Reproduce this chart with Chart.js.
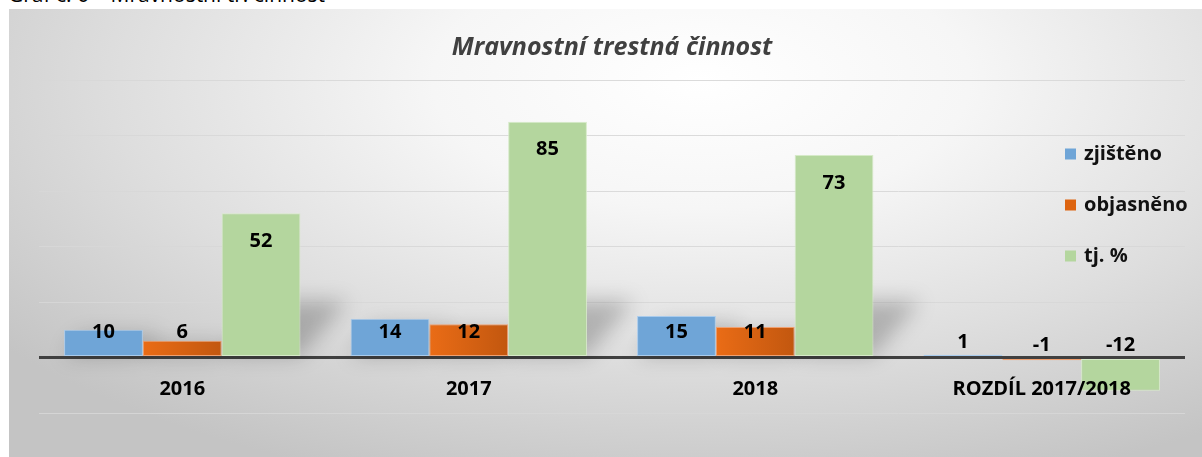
<!DOCTYPE html>
<html>
<head>
<meta charset="utf-8">
<script src="https://cdn.jsdelivr.net/npm/chart.js@4.4.1/dist/chart.umd.min.js"></script>
<style>
  html, body { margin: 0; padding: 0; background: #fff; overflow: hidden; }
  body { width: 1202px; height: 457px; position: relative; font-family: "Open Sans", sans-serif; }
  .caption { position: absolute; left: 8px; top: -20px; font-size: 21px; color: #000; white-space: nowrap; }
  .box {
    position: absolute; left: 9px; top: 9px; width: 1193px; height: 448px;
    background: radial-gradient(ellipse 75% 95% at 58% 16%, #ffffff 0%, #f6f6f6 30%, #dedede 65%, #c4c4c4 100%);
  }
  canvas { display: block; }
</style>
</head>
<body>
<div class="caption">Graf č. 6 – Mravnostní tr. činnost</div>
<div class="box"><canvas id="chart" width="1193" height="448"></canvas></div>
<script>
  const categories = ["2016", "2017", "2018", "ROZDÍL 2017/2018"];
  const zjisteno = [10, 14, 15, 1];
  const objasneno = [6, 12, 11, -1];
  const procenta = [52, 85, 73, -12];
  const seriesNames = ["zjištěno", "objasněno", "tj. %"];
  const font = "'Open Sans', Lato, sans-serif";

  // orange bars get a left-to-right gradient once their positions are known
  const orangeGradient = {
    id: "orangeGradient",
    afterUpdate(chart) {
      const ctx = chart.ctx;
      chart.getDatasetMeta(1).data.forEach((el) => {
        const g = ctx.createLinearGradient(el.x - el.width / 2, 0, el.x + el.width / 2, 0);
        g.addColorStop(0, "#ea6c16");
        g.addColorStop(1, "#c2570f");
        el.options = Object.assign({}, el.options, { backgroundColor: g });
      });
    },
  };

  // soft perspective shadow behind each positive bar
  const barShadows = {
    id: "barShadows",
    beforeDatasetsDraw(chart) {
      const ctx = chart.ctx;
      ctx.save();
      ctx.filter = "blur(10px)";
      ctx.fillStyle = "rgba(0,0,0,0.22)";
      chart.data.datasets.forEach((ds, i) => {
        chart.getDatasetMeta(i).data.forEach((el) => {
          const h = el.base - el.y;
          if (h <= 4) return;
          const hs = Math.min(h * 0.8, 55);
          const d = hs * 0.85;
          const x0 = el.x - el.width / 2, x1 = el.x + el.width / 2;
          ctx.beginPath();
          ctx.moveTo(x0, el.base);
          ctx.lineTo(x1, el.base);
          ctx.lineTo(x1 + d, el.base - hs);
          ctx.lineTo(x0 + d, el.base - hs);
          ctx.closePath();
          ctx.fill();
        });
      });
      ctx.restore();
    },
  };

  const valueLabels = {
    id: "valueLabels",
    afterDatasetsDraw(chart) {
      const ctx = chart.ctx;
      ctx.save();
      ctx.font = "bold 20px " + font;
      ctx.fillStyle = "#000";
      ctx.textAlign = "center";
      ctx.textBaseline = "middle";
      chart.data.datasets.forEach((ds, i) => {
        chart.getDatasetMeta(i).data.forEach((el, j) => {
          const v = ds.data[j];
          const h = el.base - el.y;
          let y;
          if (v < 0 || h < 10) y = el.base - 14;
          else y = Math.min(el.y + 28, el.base - 24);
          ctx.fillText(String(v), el.x, y);
        });
      });
      ctx.restore();
    },
  };

  const sideLegend = {
    id: "sideLegend",
    afterDraw(chart) {
      const ctx = chart.ctx;
      const a = chart.chartArea;
      ctx.save();
      ctx.font = "bold 20px " + font;
      ctx.textBaseline = "middle";
      ctx.textAlign = "left";
      chart.data.datasets.forEach((ds, i) => {
        const y = a.top + 74 + i * 51;
        const x = a.right - 120;
        ctx.fillStyle = ds.legendColor;
        ctx.fillRect(x, y - 5.5, 11, 11);
        ctx.fillStyle = "#111";
        ctx.fillText(ds.label, x + 19, y);
      });
      ctx.restore();
    },
  };

  new Chart(document.getElementById("chart"), {
    type: "bar",
    data: {
      labels: categories,
      datasets: [
        { label: seriesNames[0], data: zjisteno, backgroundColor: "#6fa5d7", borderColor: "#a9cbec", borderWidth: 1, legendColor: "#6fa5d7" },
        { label: seriesNames[1], data: objasneno, backgroundColor: "#d9620f", borderColor: "#f0a070", borderWidth: 1, legendColor: "#dd6410" },
        { label: seriesNames[2], data: procenta, backgroundColor: "#b4d69e", borderColor: "#d6eac8", borderWidth: 1, legendColor: "#b4d69e" },
      ],
    },
    options: {
      responsive: false,
      animation: false,
      layout: { padding: { left: 30, right: 17, top: 0, bottom: 44 } },
      datasets: { bar: { categoryPercentage: 0.825, barPercentage: 1, borderSkipped: false } },
      plugins: {
        legend: { display: false },
        tooltip: { enabled: false },
        title: {
          display: true,
          text: "Mravnostní trestná činnost",
          color: "#404040",
          font: { family: font, size: 25, style: "italic", weight: "bold" },
          padding: { top: 24, bottom: 17 },
        },
      },
      scales: {
        x: {
          position: { y: 0 },
          grid: { display: false },
          border: { display: false },
          ticks: { z: 1, color: "#000", font: { family: font, size: 20, weight: "bold" }, padding: 12 },
        },
        y: {
          min: -20,
          max: 100,
          ticks: { display: false, stepSize: 20 },
          border: { display: false },
          grid: {
            drawTicks: false,
            color: (c) => (c.tick && c.tick.value === 0 ? "#404040" : "rgba(215,215,215,0.9)"),
            lineWidth: (c) => (c.tick && c.tick.value === 0 ? 3 : 1),
          },
        },
      },
    },
    plugins: [orangeGradient, barShadows, valueLabels, sideLegend],
  });
</script>
</body>
</html>
